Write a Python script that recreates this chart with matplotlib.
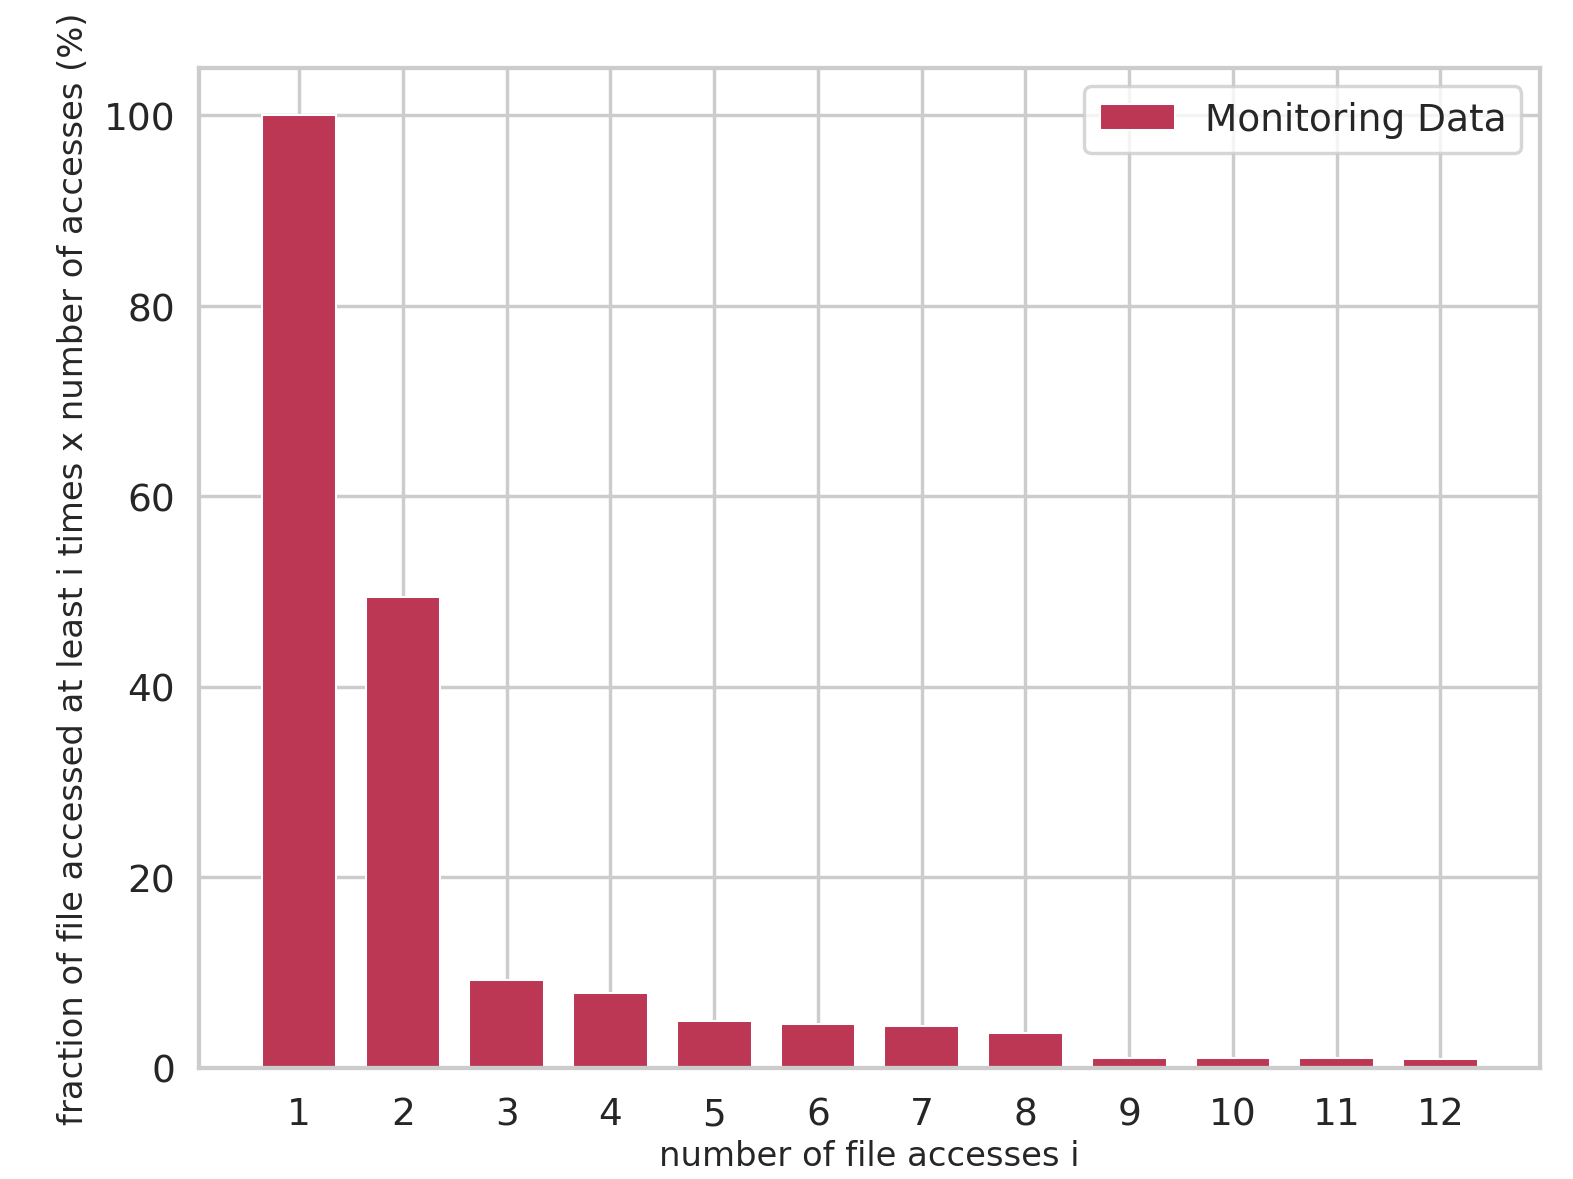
import matplotlib
matplotlib.use("Agg")
import matplotlib.pyplot as plt
import seaborn as sns

accesses = list(range(1, 13))
fraction = [100.0, 49.4, 9.2, 7.8, 4.85, 4.6, 4.4, 3.65, 1.05, 1.0, 0.95, 0.93]
series_label = "Monitoring Data"
bar_color = "#bc3754"

sns.set_theme(style="whitegrid")
plt.rcParams['font.family'] = ['DejaVu Sans']

fig = plt.figure(figsize=(6.4, 4.8), dpi=245.8)
ax = fig.add_axes([0.1265, 0.0945, 0.8525, 0.8475])
ax.bar(accesses, fraction, width=0.72, color=bar_color, edgecolor="white",
       linewidth=0.6, label=series_label, zorder=2)
ax.set_xlim(0.035, 12.96)
ax.set_ylim(0, 105)
ax.set_xticks(accesses)
ax.set_yticks([0, 20, 40, 60, 80, 100])
ax.tick_params(labelsize=11)
ax.tick_params(axis='x', pad=2.2)
ax.tick_params(axis='y', pad=1.0)
ax.set_xlabel("number of file accesses i", fontsize=9.9, labelpad=2.0)
ax.set_ylabel("fraction of file accessed at least i times x number of accesses (%)", fontsize=9.9)
ax.set_axisbelow(True)
ax.legend(loc="upper right", fontsize=11, handletextpad=0.8)
fig.savefig("out.png", dpi=245.8)
